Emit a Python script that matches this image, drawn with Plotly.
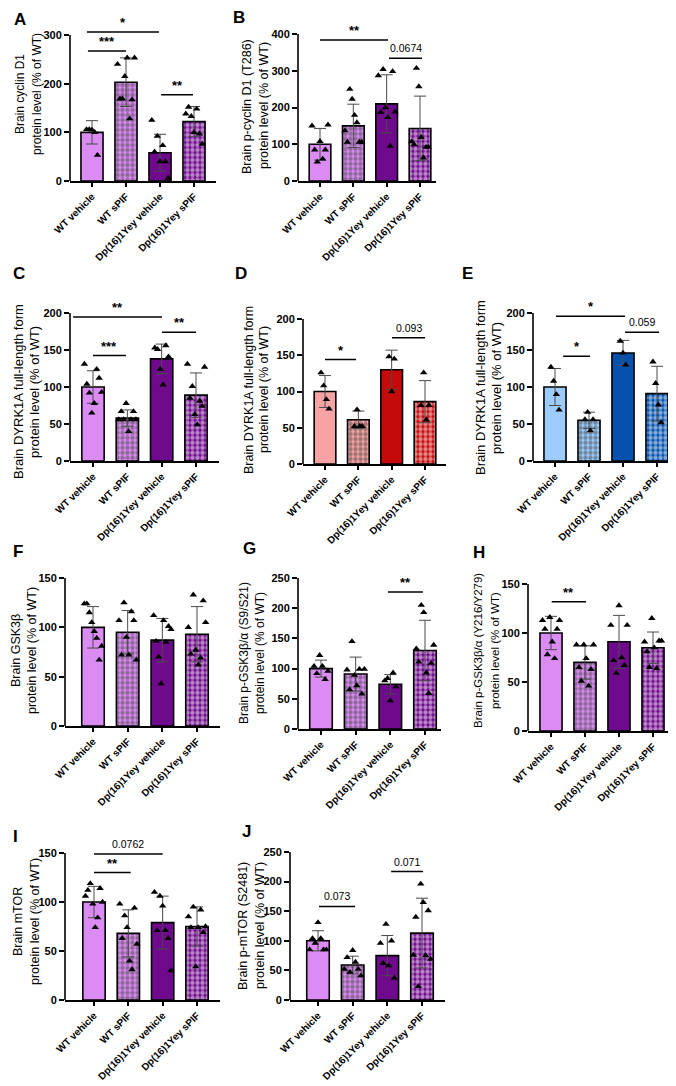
import numpy as np
import plotly.graph_objects as go

W, H = 676, 1086
FONT = "Liberation Sans, Arial, sans-serif"

GROUPS = ["WT vehicle", "WT sPIF", "Dp(16)1Yey vehicle", "Dp(16)1Yey sPIF"]

# A - cyclin D1
A_MEAN = [100, 203, 58, 122]
A_SD = [24, 50, 38, 31]
A_PTS = [
    [106, 106, 105, 100, 53],
    [240, 169, 169, 215, 253, 128, 167, 253],
    [125, 60, 92, 40, 73, 40, 6],
    [138, 152, 133, 100, 148, 97, 76],
]
A_SIG = [(-0.15, 1.97, 306, "*"), (-0.12, 1.0, 267, "***"), (2.03, 2.97, 177, "**")]

# B - p-cyclin D1 (T286)
B_MEAN = [100, 150, 210, 143]
B_SD = [43, 59, 79, 88]
B_PTS = [
    [150, 85, 52, 108, 60, 85, 153],
    [137, 106, 250, 223, 179, 159, 106, 106],
    [287, 187, 304, 200, 173, 95, 298, 188],
    [107, 99, 307, 257, 119, 63, 92, 92],
]
B_SIG = [(0, 2.04, 384, "**"), (2.07, 3.06, 334, "0.0674")]

# C - DYRK1A (purple)
C_MEAN = [100, 58, 138, 89]
C_SD = [22, 11, 20, 30]
C_PTS = [
    [131, 104, 92, 65, 78, 124, 112, 93],
    [56, 67, 56, 78, 40, 56, 67, 56],
    [153, 151, 124, 103, 156, 141],
    [131, 85, 101, 63, 49, 81, 74, 127],
]
C_SIG = [(-0.58, 2.01, 194.6, "**"), (0, 0.96, 142.5, "***"), (2.01, 3.0, 174, "**")]

# D - DYRK1A (red)
D_MEAN = [100, 61, 130, 86]
D_SD = [22, 12, 27, 29]
D_PTS = [[126, 108, 89, 76], [52, 75, 52, 52], [148, 100, 145], [81, 126, 61, 81]]
D_SIG = [(0, 0.93, 144, "*"), (2.01, 3.0, 174, "0.093")]

# E - DYRK1A (blue)
E_MEAN = [100, 55, 146, 91]
E_SD = [25, 11, 17, 37]
E_PTS = [[127, 108, 90, 69], [56, 66, 41, 56], [162, 146, 130], [134, 105, 76, 52]]
E_SIG = [(0.03, 2.06, 195.5, "*"), (0.24, 1.03, 141.6, "*"), (2.06, 3.06, 174, "0.059")]

# F - GSK3b
F_MEAN = [100, 95, 87, 93]
F_SD = [21, 22, 22, 28]
F_PTS = [
    [124, 124, 115, 105, 96, 89, 67, 81],
    [107, 72, 125, 90, 72, 116, 107, 67],
    [112, 86, 70, 43, 107, 85, 101, 98],
    [100, 73, 133, 77, 62, 69, 127, 105],
]
F_SIG = []

# G - p-GSK3b/a (S9/S21)
G_MEAN = [100, 91, 74, 130]
G_SD = [14, 28, 16, 50]
G_PTS = [
    [104, 92, 122, 104, 82, 96],
    [98, 65, 145, 89, 72, 99, 58, 99],
    [80, 84, 47, 93, 70],
    [133, 111, 205, 193, 93, 59, 109, 139],
]
G_SIG = [(1.93, 2.94, 227, "**")]

# H - p-GSK3b/a (Y216/Y279)
H_MEAN = [100, 70, 91, 85]
H_SD = [17, 17, 27, 16]
H_PTS = [
    [113, 104, 78, 116, 91, 74, 104, 113],
    [88, 65, 51, 88, 74, 46, 63, 88],
    [108, 72, 59, 128, 75, 67, 108],
    [91, 81, 65, 115, 85, 64, 92, 92],
]
H_SIG = [(0.02, 1.03, 132, "**")]

# I - mTOR
I_MEAN = [100, 68, 79, 75]
I_SD = [16, 24, 27, 20]
I_PTS = [
    [106, 112, 119, 98, 74, 84, 114, 100],
    [98, 63, 86, 74, 40, 31, 94, 57],
    [110, 71, 106, 96, 71, 63, 30],
    [85, 74, 95, 34, 74, 92, 69, 75],
]
I_SIG = [(0, 1.07, 130, "**"), (0, 2.0, 149, "0.0762")]

# J - p-mTOR (S2481)
J_MEAN = [100, 59, 75, 113]
J_SD = [17, 15, 34, 59]
J_PTS = [
    [85, 104, 96, 131, 104, 85, 85],
    [52, 72, 47, 84, 64, 52, 41],
    [96, 62, 128, 58, 100, 37],
    [76, 140, 23, 196, 165, 75, 151, 69],
]
J_SIG = [(0.03, 1.07, 158, "0.073"), (2.11, 3.03, 217, "0.071")]

PALETTES = {
    "purple": ("#DA8CF2", "#700A8C"),
    "red": ("#F7A3A3", "#C60A0A"),
    "blue": ("#9DCCFB", "#0552AE"),
}

LEVEL = "protein level (% of WT)"
DYRK = "Brain DYRK1A full-length form"

# pixel geometry: (axis left, axis right, y of 0, y of ymax), bar centres of first/last group,
# title: (x of line 1, x of line 2, y centre, font size)
GEOM = {
    "A": dict(box=(62, 208, 173, 27), cen=(84, 186), ymax=300, dtick=100, pal="purple",
              title="Brain cyclin D1", t_at=(12, 29, 86, 12), l_at=(4, 11)),
    "B": dict(box=(290, 428, 173, 26), cen=(312, 412), ymax=400, dtick=100, pal="purple",
              title="Brain p-cyclin D1 (T286)", t_at=(239, 256, 98, 12.5), l_at=(223, 10)),
    "C": dict(box=(62, 211, 453, 305), cen=(85, 188), ymax=200, dtick=50, pal="purple",
              title=DYRK, t_at=(10, 26, 384, 13), l_at=(3, 265)),
    "D": dict(box=(295, 438, 456, 311), cen=(317, 417), ymax=200, dtick=50, pal="red",
              title=DYRK, t_at=(241, 256, 382, 12.5), l_at=(225, 265)),
    "E": dict(box=(525, 673, 453, 305), cen=(547, 649), ymax=200, dtick=50, pal="blue",
              title=DYRK, t_at=(472, 488, 380, 13), l_at=(452, 265)),
    "F": dict(box=(57, 212, 718, 570), cen=(85, 189), ymax=150, dtick=50, pal="purple",
              title="Brain GSK3β", t_at=(8, 24, 643, 12.5), l_at=(3, 543)),
    "G": dict(box=(290, 433, 721, 570), cen=(313, 417), ymax=250, dtick=50, pal="purple",
              title="Brain p-GSK3β/α (S9/S21)", t_at=(236, 252, 645, 12), l_at=(233, 540)),
    "H": dict(box=(520, 668, 723, 576), cen=(543, 645), ymax=150, dtick=50, pal="purple",
              title="Brain p-GSK3β/α (Y216/Y279)", t_at=(470, 487, 643, 11.5), l_at=(463, 544)),
    "I": dict(box=(57, 212, 992, 845), cen=(86, 189), ymax=150, dtick=50, pal="purple",
              title="Brain mTOR", t_at=(10, 27, 914, 12.5), l_at=(3, 828)),
    "J": dict(box=(282, 437, 992, 844), cen=(310, 414), ymax=250, dtick=50, pal="purple",
              title="Brain p-mTOR (S2481)", t_at=(235, 252, 918, 12.5), l_at=(232, 823)),
}

DATA = {
    "A": (A_MEAN, A_SD, A_PTS, A_SIG), "B": (B_MEAN, B_SD, B_PTS, B_SIG),
    "C": (C_MEAN, C_SD, C_PTS, C_SIG), "D": (D_MEAN, D_SD, D_PTS, D_SIG),
    "E": (E_MEAN, E_SD, E_PTS, E_SIG), "F": (F_MEAN, F_SD, F_PTS, F_SIG),
    "G": (G_MEAN, G_SD, G_PTS, G_SIG), "H": (H_MEAN, H_SD, H_PTS, H_SIG),
    "I": (I_MEAN, I_SD, I_PTS, I_SIG), "J": (J_MEAN, J_SD, J_PTS, J_SIG),
}

EXT = 1.12  # extra room above ymax for significance bars


def spread(n):
    if n == 1:
        return np.zeros(1)
    half = min(0.25, 0.04 * (n - 1))
    return np.linspace(-half, half, n)


fig = go.Figure()
layout = {}
shapes = []
annotations = []

for i, key in enumerate(GEOM, start=1):
    g = GEOM[key]
    mean, sd, pts, sig = DATA[key]
    suffix = "" if i == 1 else str(i)
    xa, ya = f"x{suffix}", f"y{suffix}"
    light, dark = PALETTES[g["pal"]]

    xl, xr, y0, yt = g["box"]
    c0, c3 = g["cen"]
    step = (c3 - c0) / 3
    xrange = [-(c0 - xl) / step, 3 + (xr - c3) / step]
    ytop_px = y0 - (y0 - yt) * EXT

    fig.add_trace(go.Bar(
        x=[0, 1, 2, 3], y=mean, xaxis=xa, yaxis=ya, width=0.65,
        marker=dict(
            color=[light, light, dark, dark],
            line=dict(color="black", width=1.6),
            pattern=dict(shape=["", ".", "", "."], fgcolor=[light, light, dark, dark],
                         bgcolor="white", size=5, solidity=0.6),
        ),
        error_y=dict(type="data", array=sd, color="#4a4a4a", thickness=1, width=6),
        showlegend=False, hoverinfo="skip",
    ))

    for k, vals in enumerate(pts):
        fig.add_trace(go.Scatter(
            x=k + spread(len(vals)), y=vals, xaxis=xa, yaxis=ya, mode="markers",
            marker=dict(symbol="triangle-up", size=6.5, color="black"),
            cliponaxis=False, showlegend=False, hoverinfo="skip",
        ))

    layout[f"xaxis{suffix}"] = dict(
        domain=[xl / W, xr / W], range=xrange, anchor=ya, automargin=False,
        showline=True, linecolor="black", linewidth=1.6,
        ticks="outside", ticklen=4, tickwidth=1.5, tickcolor="black",
        tickvals=[0, 1, 2, 3], ticktext=GROUPS, tickangle=-45,
        tickfont=dict(family=FONT, size=10, color="black", weight="bold"),
        showgrid=False, zeroline=False, fixedrange=True,
    )
    layout[f"yaxis{suffix}"] = dict(
        domain=[1 - y0 / H, 1 - ytop_px / H], range=[0, g["ymax"] * EXT], anchor=xa,
        automargin=False,
        showline=False, ticks="outside", ticklen=5, tickwidth=1.5, tickcolor="black",
        tickvals=list(range(0, g["ymax"] + 1, g["dtick"])),
        tickfont=dict(family=FONT, size=11, color="black", weight="bold"),
        showgrid=False, zeroline=False, fixedrange=True,
    )

    # y axis line stops at ymax
    shapes.append(dict(type="line", xref=f"{xa} domain", yref=ya, x0=0, x1=0, y0=0, y1=g["ymax"],
                       line=dict(color="black", width=1.6)))

    for a, b, lvl, txt in sig:
        shapes.append(dict(type="line", xref=xa, yref=ya, x0=a, x1=b, y0=lvl, y1=lvl,
                           line=dict(color="black", width=1.5)))
        stars = txt.startswith("*")
        annotations.append(dict(
            x=(a + b) / 2, y=lvl, xref=xa, yref=ya, text=txt, showarrow=False,
            yanchor="bottom", yshift=0 if stars else 2,
            font=dict(family=FONT, size=13 if stars else 10.5, color="black",
                      weight="bold" if stars else "normal"),
        ))

    x1, x2, ty, fs = g["t_at"]
    for tx, line in ((x1, g["title"]), (x2, LEVEL)):
        annotations.append(dict(
            x=tx / W, y=1 - ty / H, xref="paper", yref="paper", text=line, textangle=-90,
            showarrow=False, xanchor="center", yanchor="middle",
            font=dict(family=FONT, size=fs, color="black"),
        ))
    lx, ly = g["l_at"]
    annotations.append(dict(
        x=lx / W, y=1 - ly / H, xref="paper", yref="paper", text=key, showarrow=False,
        xanchor="left", yanchor="middle",
        font=dict(family=FONT, size=17, color="black", weight="bold"),
    ))

fig.update_layout(
    **layout,
    width=W, height=H,
    margin=dict(l=0, r=0, t=0, b=0),
    paper_bgcolor="white", plot_bgcolor="rgba(0,0,0,0)",
    font=dict(family=FONT, color="black"),
    shapes=shapes, annotations=annotations,
    bargap=0.35,
)

fig.write_html("out.html")
